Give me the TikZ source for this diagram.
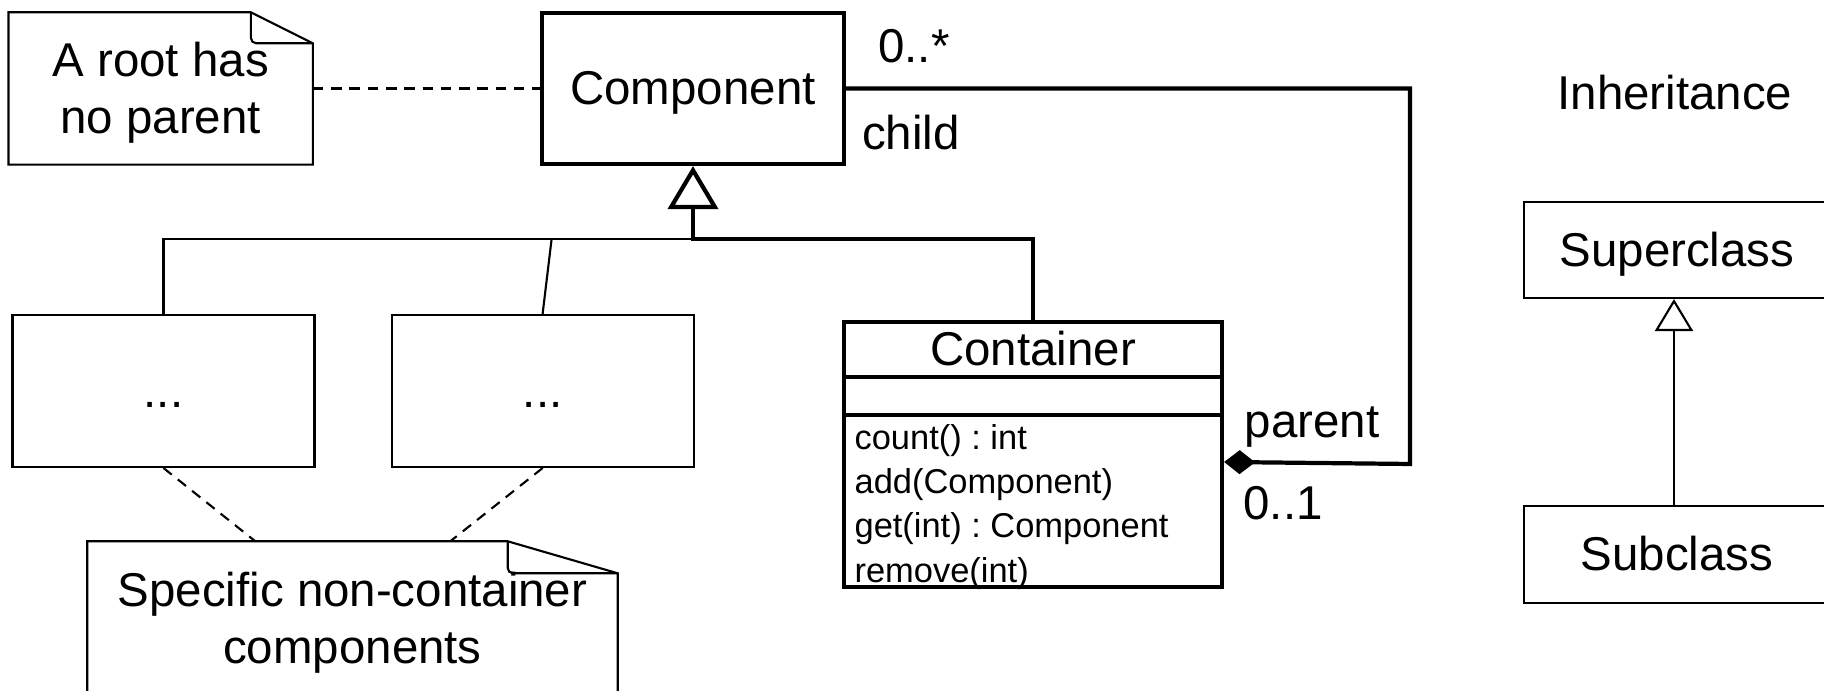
\documentclass[tikz,border=0pt]{standalone}
\usepackage{fontspec}
\setmainfont{Liberation Sans}
\usepackage{tikz}
\usetikzlibrary{arrows.meta,positioning,calc}
\newcommand{\umlfont}{\fontsize{13.5}{16.2}\selectfont}
\newcommand{\opfont}{\fontsize{9.8}{12.6}\selectfont\frenchspacing}
\newcommand{\dogear}[3]{%
  \draw[line width=0.6pt] (#1.north west) -- ([xshift=-#2]#1.north east)
    -- ([yshift=-#3]#1.north east) -- (#1.south east) -- (#1.south west) -- cycle;
  \draw[line width=0.6pt,rounded corners=1.5pt] ([xshift=-#2]#1.north east)
    -- ([xshift=-#2,yshift=-#3]#1.north east) -- ([yshift=-#3]#1.north east);}

\begin{document}
\begin{tikzpicture}[>=Stealth,node distance=1.0cm]
  \tikzstyle{cls}=[rectangle,draw,line width=1.2pt,minimum width=3.02cm,minimum height=1.51cm,inner sep=0pt,
    text height=12.2pt,text depth=2.9pt,font=\umlfont]
  \tikzstyle{plain}=[rectangle,draw,line width=0.6pt,minimum width=3.02cm,inner sep=0pt,
    text height=12.2pt,text depth=2.9pt,font=\umlfont]
  \tikzstyle{memo}=[rectangle,inner sep=0pt,align=center,font=\umlfont]
  \tikzstyle{lbl}=[inner sep=0pt,font=\umlfont]
  \tikzstyle{ops}=[inner sep=0pt,align=left,font=\opfont]
  \tikzstyle{anchorline}=[line width=0.6pt,dash pattern=on 3pt off 2.2pt]
  \useasboundingbox (0,0) rectangle (18.24,6.91);

  \node[cls] (comp) at (6.93,6.025) {Component};
  \node[memo,minimum width=3.03cm,minimum height=1.51cm,left=2.27cm of comp] (root) {};
  \node[memo] (roottext) at ([yshift=-0.04cm]root.center) {A root has\\no parent};
  \dogear{root}{0.62cm}{0.31cm}

  \node[cls,minimum width=3.78cm,minimum height=2.65cm] (cont) at (10.33,2.365) {};
  \node[lbl] (contname) at ([yshift=-0.285cm]cont.north) {Container};
  \draw[line width=1.2pt] ([yshift=-0.57cm]cont.north west) -- ([yshift=-0.57cm]cont.north east);
  \draw[line width=1.2pt] ([yshift=-0.95cm]cont.north west) -- ([yshift=-0.95cm]cont.north east);
  \node[ops,anchor=west] (contops) at ([xshift=0.12cm,yshift=-1.87cm]cont.north west)
    {count() : int\\add(Component)\\get(int) : Component\\remove(int)};

  \node[plain,minimum height=1.52cm] (leaf1) at (1.635,3.00) {...};
  \node[plain,minimum height=1.52cm,right=0.75cm of leaf1] (leaf2) {...};
  \node[memo,minimum width=5.29cm,minimum height=1.58cm] (spec) at (3.525,0.70) {};
  \node[memo] (spectext) at ([yshift=-0.02cm]spec.center) {Specific non-container\\components};
  \dogear{spec}{1.1cm}{0.32cm}

  \node[lbl] (legend) at (16.75,5.98) {Inheritance};
  \node[plain,minimum width=3.06cm,minimum height=0.96cm] (super) at (16.77,4.41) {Superclass};
  \node[plain,minimum width=3.06cm,minimum height=0.97cm,below=2.06cm of super] (sub) {Subclass};

  \node[lbl] (many) at (9.14,6.45) {0..*};
  \node[lbl] (child) at (9.11,5.58) {child};
  \node[lbl] (parent) at (13.12,2.64) {parent};
  \node[lbl] (one) at (12.83,1.88) {0..1};

  \coordinate (join) at (6.93,4.52);
  \coordinate (bend) at (14.10,2.27);
  \draw[line width=1.2pt,-{Triangle[open,length=0.43cm,width=0.50cm]}] (cont.north) |- (join) -- (comp.south);
  \draw[line width=0.6pt] (leaf1.north) |- (join);
  \draw[line width=0.6pt] (leaf2.north) -- ([xshift=0.09cm]leaf2.north |- join);
  \draw[line width=1.2pt,{Diamond[length=0.31cm,width=0.24cm]}-] ([yshift=-0.075cm]cont.east) -- (bend) |- (comp.east);

  \draw[anchorline] (root) -- (comp);
  \draw[anchorline] (leaf1.south) -- ([xshift=1.68cm]spec.north west);
  \draw[anchorline] (leaf2.south) -- ([xshift=3.63cm]spec.north west);

  \draw[line width=0.6pt,-{Triangle[open,length=0.32cm,width=0.38cm]}] ([xshift=-0.03cm]sub.north) -- ([xshift=-0.03cm]super.south);
\end{tikzpicture}
\end{document}
